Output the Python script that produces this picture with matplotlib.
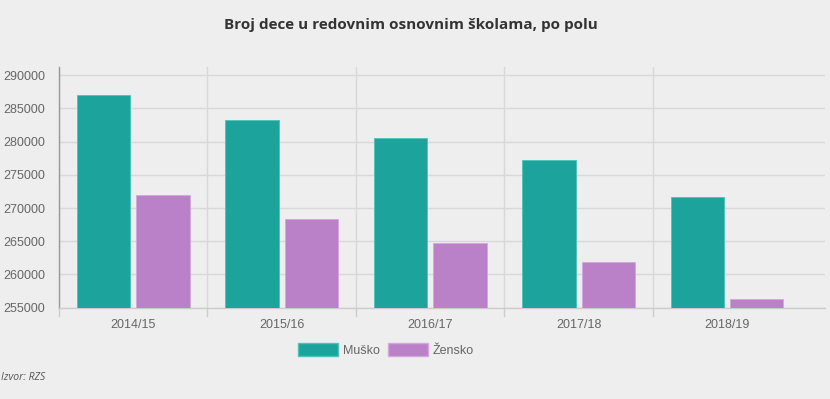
import matplotlib.pyplot as plt
import numpy as np
from matplotlib.patches import Patch

years = ["2014/15", "2015/16", "2016/17", "2017/18", "2018/19"]
musko = [287000, 283300, 280500, 277300, 271650]
zensko = [272000, 268350, 264800, 261950, 256250]

teal = "#1ba39c"
purple = "#ba80c8"
bg = "#eeeeee"

fig = plt.figure(figsize=(8.3, 3.99), dpi=100, facecolor=bg)
ax = fig.add_axes([59 / 830, 91.3 / 399, 766 / 830, 240.5 / 399], facecolor=bg)

x = np.arange(len(years))
ax.bar(x - 0.2, [m - 255000 for m in musko], 0.36, bottom=255000, color=teal,
       edgecolor="#4fc2ba", linewidth=0.6, zorder=3)
ax.bar(x + 0.2, [z - 255000 for z in zensko], 0.36, bottom=255000, color=purple,
       edgecolor="#d4a6de", linewidth=0.6, zorder=3)

ax.set_ylim(255000, 291200)
ax.set_xlim(-0.5, 4.66)
ax.set_yticks(range(255000, 290001, 5000))
ax.yaxis.grid(True, color="#d8d8d8", linewidth=1)
for b in np.arange(-0.5, 4, 1.0):
    ax.axvline(b, color="#d8d8d8", linewidth=1, zorder=1)

ax.set_xticks(x)
ax.set_xticklabels(years)
ax.tick_params(axis="x", length=0, pad=8)
ax.tick_params(axis="y", length=0, pad=10)
for lab in ax.get_xticklabels() + ax.get_yticklabels():
    lab.set_fontfamily("Liberation Sans")
    lab.set_fontsize(9)
    lab.set_color("#666666")

for s in ["top", "right"]:
    ax.spines[s].set_visible(False)
ax.spines["left"].set_color("#999999")
ax.spines["bottom"].set_color("#cccccc")
ax.spines["left"].set_linewidth(1)
ax.spines["bottom"].set_linewidth(1)

# little tick marks under the axis at category borders
for b in np.arange(-0.5, 4, 1.0):
    ax.plot([b, b], [255000, 253800], color="#cccccc", linewidth=1, clip_on=False)

fig.text(411 / 830, 1 - 25 / 399, "Broj dece u redovnim osnovnim školama, po polu",
         ha="center", va="center", fontsize=11, fontweight="bold",
         fontfamily="Open Sans", color="#333333")

handles = [Patch(facecolor=teal, edgecolor="#4fc2ba", label="Muško"),
           Patch(facecolor=purple, edgecolor="#d4a6de", label="Žensko")]
leg = fig.legend(handles=handles, loc="center", bbox_to_anchor=(386 / 830, 1 - 350 / 399),
                 ncol=2, frameon=False, handlelength=3.2, handleheight=1.2,
                 handletextpad=0.4, columnspacing=0.6,
                 prop={"family": "Liberation Sans", "size": 9})
for t in leg.get_texts():
    t.set_color("#666666")

fig.text(1 / 830, 1 - 377 / 399, "Izvor: RZS", ha="left", va="center",
         fontsize=7.5, fontstyle="italic", fontfamily="Open Sans", color="#555555")

fig.savefig("out.png", dpi=100, facecolor=bg)
